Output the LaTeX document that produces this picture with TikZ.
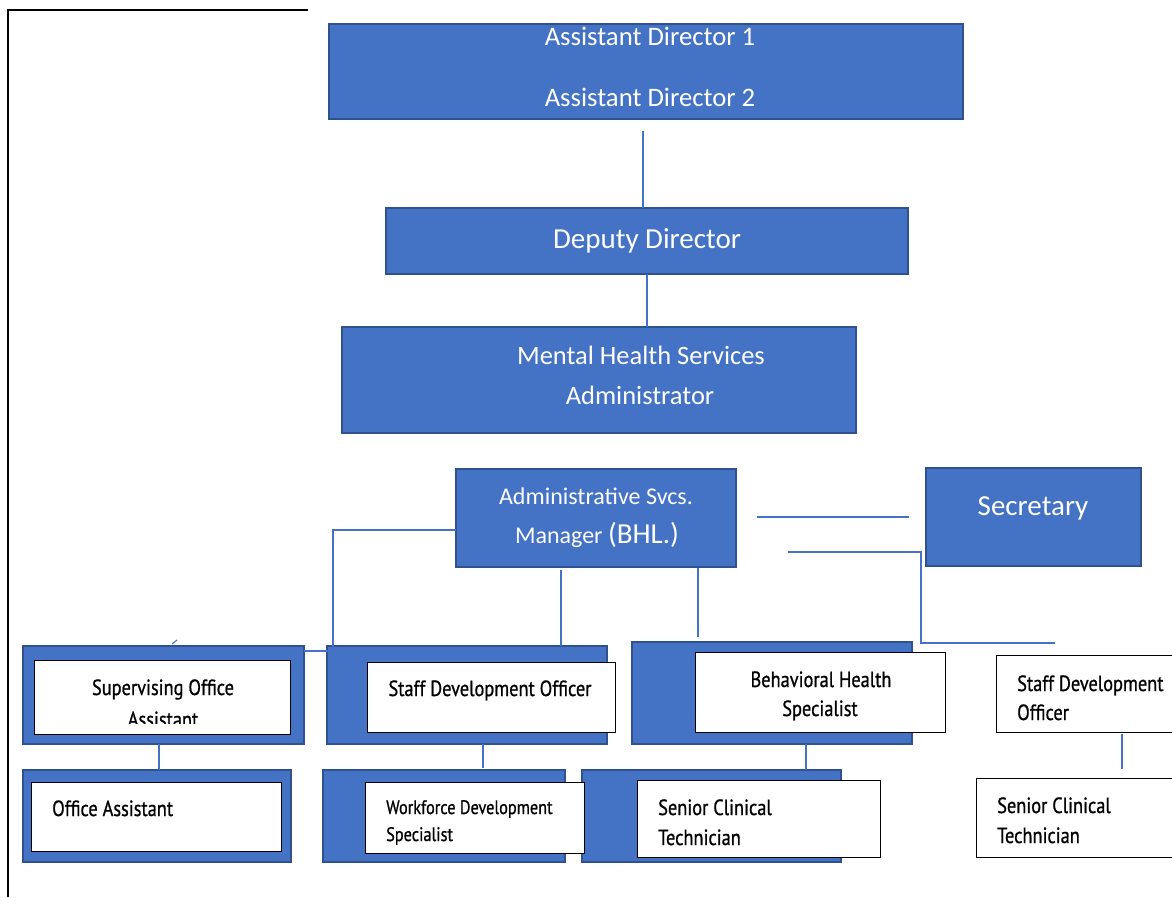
\documentclass[tikz,border=0pt]{standalone}
\usepackage{fontspec}
\setmainfont{Carlito}
\newfontfamily\dinfont[FakeStretch=0.835,FakeBold=0.8]{PT Sans}
\definecolor{bfill}{HTML}{4472C4}
\definecolor{bdraw}{HTML}{2F528F}
\begin{document}
\begin{tikzpicture}[x=1pt,y=-1pt,
  bbox/.style={draw=bdraw, fill=bfill, line width=1.6pt, inner sep=0pt, outer sep=0pt},
  wbox/.style={draw=black, fill=white, line width=1pt, inner sep=0pt, outer sep=0pt},
  conn/.style={draw=bfill, line width=1.1pt},
  wt/.style={text=white, inner sep=0pt},
  dt/.style={text=black, inner sep=0pt, font=\dinfont\fontsize{22}{26}\selectfont},
  frame/.style={draw=black, line width=2pt}]
\useasboundingbox (0,0) rectangle (1172,897);
\draw[frame] (308,10) -- (8,10) -- (8,897);
% upper boxes
\node[bbox, minimum width=634pt, minimum height=95pt] (ad) at (646,71.5) {};
\node[wt, font=\fontsize{26.7}{30}\selectfont, anchor=mid] (ad1) at (650,43) {Assistant Director 1};
\node[wt, font=\fontsize{26.7}{30}\selectfont, anchor=mid] (ad2) at (650,104) {Assistant Director 2};
\node[bbox, minimum width=522pt, minimum height=66pt] (dd) at (647,241) {};
\node[wt, font=\fontsize{29}{33}\selectfont, anchor=mid] (ddt) at (647,246) {Deputy Director};
\node[bbox, minimum width=514pt, minimum height=106pt] (mhs) at (599,380) {};
\node[wt, font=\fontsize{26.5}{30}\selectfont, anchor=mid] (mhs1) at (641,362) {Mental Health Services};
\node[wt, font=\fontsize{26.5}{30}\selectfont, anchor=mid] (mhs2) at (640,402) {Administrator};
\node[bbox, minimum width=280pt, minimum height=98pt] (asm) at (596,518) {};
\node[wt, font=\fontsize{24}{28}\selectfont, anchor=mid] (asm1) at (596,502) {Administrative Svcs.};
\node[wt, font=\fontsize{24}{28}\selectfont, anchor=mid] (asm2) at (597,541) {Manager {\fontsize{29}{33}\selectfont(BHL.)}};
\node[bbox, minimum width=215pt, minimum height=98pt] (sec) at (1033.5,517) {};
\node[wt, font=\fontsize{29}{33}\selectfont, anchor=mid] (sect) at (1033,513) {Secretary};
% lower blue boxes
\node[bbox, minimum width=281pt, minimum height=98pt] (soaB) at (163.5,695) {};
\node[bbox, minimum width=268pt, minimum height=92pt] (oaB) at (157,816) {};
\node[bbox, minimum width=280pt, minimum height=98pt] (sdoB) at (467,695) {};
\node[bbox, minimum width=242pt, minimum height=92pt] (wdsB) at (444,816) {};
\node[bbox, minimum width=280pt, minimum height=102pt] (bhsB) at (772,693) {};
\node[bbox, minimum width=259pt, minimum height=92pt] (sctB) at (711.5,816) {};
% white boxes
\node[wbox, minimum width=256pt, minimum height=74pt] (soaW) at (162,697) {};
\node[wbox, minimum width=250pt, minimum height=69pt] (oaW) at (156,816.5) {};
\node[wbox, minimum width=248pt, minimum height=70pt] (sdoW) at (491,697) {};
\node[wbox, minimum width=219pt, minimum height=71pt] (wdsW) at (474.5,817.5) {};
\node[wbox, minimum width=250pt, minimum height=80pt] (bhsW) at (820,692) {};
\node[wbox, minimum width=243pt, minimum height=77pt] (sctW) at (758.5,818.5) {};
\node[wbox, minimum width=184pt, minimum height=77pt] (sdo2W) at (1088,693.5) {};
\node[wbox, minimum width=204pt, minimum height=79pt] (sct2W) at (1078,817.5) {};
% texts in white boxes
\node[dt, anchor=base] (soa1) at (163,695) {Supervising Office};
\begin{scope}
\clip (40,700) rectangle (290,723);
\node[dt, anchor=base] (soa2) at (163,727) {Assistant};
\end{scope}
\node[dt, anchor=base] (sdot) at (490,696) {Staff Development Officer};
\node[dt, anchor=base west] (oat) at (52,816) {Office Assistant};
\node[dt, font=\dinfont\fontsize{19.5}{23}\selectfont, anchor=base west] (wds1) at (386,814) {Workforce Development};
\node[dt, font=\dinfont\fontsize{19.5}{23}\selectfont, anchor=base west] (wds2) at (386,841) {Specialist};
\node[dt, anchor=base] (bhs1) at (821,687) {Behavioral Health};
\node[dt, anchor=base] (bhs2) at (820,716) {Specialist};
\node[dt, anchor=base west] (sct1) at (658,815) {Senior Clinical};
\node[dt, anchor=base west] (sct2) at (658,845) {Technician};
\node[dt, anchor=base west] (sdo21) at (1017,691) {Staff Development};
\node[dt, anchor=base west] (sdo22) at (1017,720) {Officer};
\node[dt, anchor=base west] (sct21) at (997,813) {Senior Clinical};
\node[dt, anchor=base west] (sct22) at (997,843) {Technician};
% connectors
\draw[conn] ([xshift=-3pt,yshift=-12pt]ad.south) coordinate (c1) -- (c1 |- dd.north);
\draw[conn] (dd.south) -- (dd.south |- mhs.north);
\coordinate (j1) at (333,651);
\draw[conn] ([yshift=-12pt]asm.west) -| (j1) -- (j1 -| soaB.east);
\draw[conn] ([xshift=8.5pt,yshift=2pt]soaB.north) -- ([xshift=13.5pt,yshift=6pt]soaB.north);
\draw[conn] ([xshift=-35pt,yshift=-3pt]asm.south) coordinate (c2) -- (c2 |- sdoB.north);
\draw[conn] ([xshift=102pt,yshift=-1pt]asm.south) -- ([xshift=-74pt,yshift=5pt]bhsB.north);
\draw[conn] ([xshift=21pt,yshift=1pt]asm.east) -- ([xshift=-17pt]sec.west);
\coordinate (j2) at (921,643);
\draw[conn] ([xshift=52pt,yshift=-34pt]asm.east) -| (j2) -- ([xshift=-33pt,yshift=12pt]sdo2W.north);
\draw[conn] ([xshift=-4.5pt]soaB.south) coordinate (c3) -- (c3 |- oaB.north);
\draw[conn] ([xshift=16pt]sdoB.south) coordinate (c4) -- ([yshift=2pt]c4 |- wdsB.north);
\draw[conn] ([xshift=34pt]bhsB.south) coordinate (c5) -- (c5 |- sctB.north);
\draw[conn] ([xshift=34pt,yshift=-2pt]sdo2W.south) coordinate (c6) -- ([yshift=9pt]c6 |- sct2W.north);
\end{tikzpicture}
\end{document}
